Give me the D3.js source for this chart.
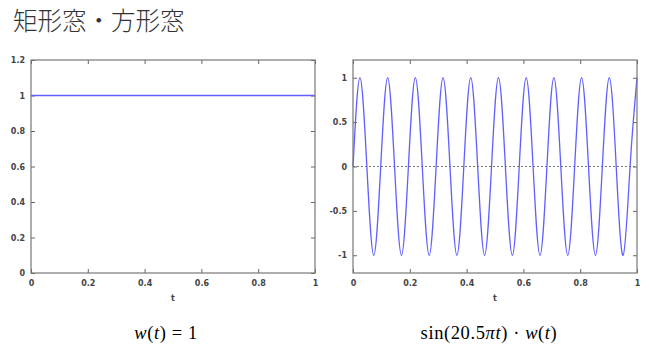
<!DOCTYPE html>
<html>
  <head>
    <meta charset="utf-8" />
    <script src="https://cdn.jsdelivr.net/npm/d3@7"></script>
    <style>
      body,
      html {
        margin: 0;
        padding: 0;
        background: #fff;
        overflow: hidden;
      }
      .tick text {
        font-family: "DejaVu Sans", sans-serif;
        font-size: 8px;
        font-weight: bold;
        fill: #444;
      }
      .tick line {
        stroke: #666;
      }
      .formula {
        font-family: "Liberation Serif", serif;
        font-size: 18.5px;
        letter-spacing: 0.6px;
        fill: #000;
        white-space: pre;
      }
    </style>
    <title>rect window</title>
  </head>

  <body>
    <svg id="chart" width="649" height="355"></svg>

    <script>
      // rectangular window w(t) = 1
      var windowT = [0, 1];
      var windowW = [1, 1];

      // sin(20.5*pi*t) * w(t), read at every quarter period
      var sineT = [
        0, 0.0244, 0.0488, 0.0732, 0.0976, 0.122, 0.1463, 0.1707, 0.1951,
        0.2195, 0.2439, 0.2683, 0.2927, 0.3171, 0.3415, 0.3659, 0.3902,
        0.4146, 0.439, 0.4634, 0.4878, 0.5122, 0.5366, 0.561, 0.5854, 0.6098,
        0.6341, 0.6585, 0.6829, 0.7073, 0.7317, 0.7561, 0.7805, 0.8049,
        0.8293, 0.8537, 0.878, 0.9024, 0.9268, 0.9512, 0.9756, 1,
      ];
      var sineV = [
        0, 1, 0, -1, 0, 1, 0, -1, 0, 1, 0, -1, 0, 1, 0, -1, 0, 1, 0, -1, 0, 1,
        0, -1, 0, 1, 0, -1, 0, 1, 0, -1, 0, 1, 0, -1, 0, 1, 0, -1, 0, 1,
      ];

      var xTicks = [0, 0.2, 0.4, 0.6, 0.8, 1];
      var leftYTicks = [0, 0.2, 0.4, 0.6, 0.8, 1, 1.2];
      var rightYTicks = [-1, -0.5, 0, 0.5, 1];

      var svg = d3.select("#chart");

      svg
        .append("text")
        .attr("x", 13)
        .attr("y", 30)
        .style("font-family", "Noto Sans CJK JP")
        .style("font-size", "24.5px")
        .style("font-weight", "300")
        .style("fill", "#333")
        .text("矩形窓・方形窓");

      function drawPanel(left, right, yDomain, yTicks, ts, vs, dotted) {
        var top = 60;
        var bottom = 273;
        var x = d3.scaleLinear().domain([0, 1]).range([left, right]);
        var y = d3.scaleLinear().domain(yDomain).range([bottom, top]);
        var g = svg.append("g");

        g.append("g")
          .attr("transform", "translate(0," + bottom + ")")
          .call(d3.axisBottom(x).tickValues(xTicks).tickSize(-4).tickPadding(7).tickFormat(d3.format("")))
          .select(".domain")
          .remove();
        g.append("g")
          .attr("transform", "translate(0," + top + ")")
          .call(d3.axisTop(x).tickValues(xTicks).tickSize(-4).tickFormat(""))
          .select(".domain")
          .remove();
        g.append("g")
          .attr("transform", "translate(" + left + ",0)")
          .call(d3.axisLeft(y).tickValues(yTicks).tickSize(-4).tickPadding(6).tickFormat(d3.format("")))
          .select(".domain")
          .remove();
        g.append("g")
          .attr("transform", "translate(" + right + ",0)")
          .call(d3.axisRight(y).tickValues(yTicks).tickSize(-4).tickFormat(""))
          .select(".domain")
          .remove();

        g.selectAll(".tick text").text(function () {
          return d3.select(this).text().replace("−", "-");
        });

        if (dotted) {
          g.append("line")
            .attr("x1", x(0))
            .attr("x2", x(1))
            .attr("y1", y(0))
            .attr("y2", y(0))
            .style("stroke", "#777")
            .style("stroke-width", 1)
            .style("stroke-dasharray", "2 2");
        }

        var line = d3
          .line()
          .x(function (d, i) {
            return x(ts[i]);
          })
          .y(function (d) {
            return y(d);
          })
          .curve(d3.curveNatural);

        g.append("path")
          .datum(vs)
          .attr("d", line)
          .style("fill", "none")
          .style("stroke", "#6060ff")
          .style("stroke-width", 1.3);

        g.append("rect")
          .attr("x", left)
          .attr("y", top)
          .attr("width", right - left)
          .attr("height", bottom - top)
          .style("fill", "none")
          .style("stroke", "#777")
          .style("stroke-width", 1.2);

        g.append("text")
          .attr("x", (left + right) / 2)
          .attr("y", 301)
          .attr("text-anchor", "middle")
          .style("font-family", "DejaVu Sans")
          .style("font-size", "8px")
          .style("font-weight", "bold")
          .style("fill", "#444")
          .text("t");
      }

      drawPanel(31, 315, [0, 1.2], leftYTicks, windowT, windowW, false);
      drawPanel(353, 637, [-1.2, 1.2], rightYTicks, sineT, sineV, true);

      // formulas under the panels
      var f1 = svg
        .append("text")
        .attr("class", "formula")
        .attr("x", 166)
        .attr("y", 339)
        .attr("text-anchor", "middle");
      f1.append("tspan").style("font-style", "italic").text("w");
      f1.append("tspan").text("(");
      f1.append("tspan").style("font-style", "italic").text("t");
      f1.append("tspan").text(") = 1");

      var f2 = svg
        .append("text")
        .attr("class", "formula")
        .attr("x", 489)
        .attr("y", 339)
        .attr("text-anchor", "middle");
      f2.append("tspan").text("sin(20.5");
      f2.append("tspan").style("font-style", "italic").text("πt");
      f2.append("tspan").text(") · ");
      f2.append("tspan").style("font-style", "italic").text("w");
      f2.append("tspan").text("(");
      f2.append("tspan").style("font-style", "italic").text("t");
      f2.append("tspan").text(")");
    </script>
  </body>
</html>
